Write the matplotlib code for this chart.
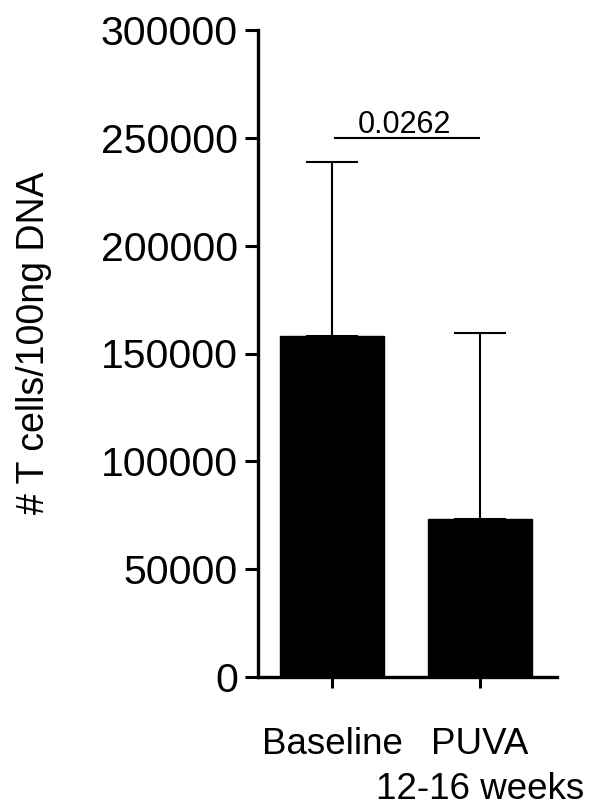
import matplotlib
matplotlib.use("Agg")
import matplotlib.pyplot as plt
from matplotlib import font_manager
from matplotlib.transforms import blended_transform_factory, offset_copy

categories = ["Baseline", "PUVA\n12-16 weeks"]
means = [158000, 73300]
upper_err = [81000, 86200]
yticks = [0, 50000, 100000, 150000, 200000, 250000, 300000]
pvalue_text = "0.0262"
sig_y = 250000
ylabel = "# T cells/100ng DNA"

names = {f.name for f in font_manager.fontManager.ttflist}
base = "Liberation Sans" if "Liberation Sans" in names else "DejaVu Sans"
plt.rcParams['font.family'] = [base, 'DejaVu Sans']

fig = plt.figure(figsize=(5.94, 8.10), dpi=100)
ax = fig.add_axes([258/594, 1-677/810, (557-258)/594, (677-30)/810])

x = list(range(len(categories)))
ax.bar(x, means, width=0.70, color="black", edgecolor="black", zorder=2)
ax.errorbar(x, means, yerr=[[0]*len(means), upper_err], fmt="none",
            ecolor="black", elinewidth=1.5, capsize=18.4, capthick=1.5, zorder=1)

ax.set_xlim(-0.5, 1.52)
ax.set_ylim(0, 300000)
ax.set_yticks(yticks)
ax.set_yticklabels([str(v) for v in yticks])
ax.set_xticks(x)
first_lines = [c.split("\n")[0] for c in categories]
ax.set_xticklabels(first_lines, fontsize=26.5)
ax.tick_params(axis="y", labelsize=29.5, length=9.5, width=2.2, pad=5)
ax.tick_params(axis="x", length=8, width=2.2, pad=28)
for s in ["top", "right"]:
    ax.spines[s].set_visible(False)
for s in ["left", "bottom"]:
    ax.spines[s].set_linewidth(2.4)

# second lines of category labels
trans = blended_transform_factory(ax.transData, ax.transAxes)
for xi, c in zip(x, categories):
    parts = c.split("\n")
    if len(parts) > 1:
        ax.text(xi, 0, parts[1], transform=offset_copy(trans, fig=fig, y=-122/1.0, units="dots"),
                ha="center", va="baseline", fontsize=26.5)

# significance bar
ax.plot([0.02, 0.99], [sig_y, sig_y], color="black", lw=1.5, clip_on=False)
ax.text(0.49, sig_y + 2300, pvalue_text, ha="center", va="baseline", fontsize=22)

fig.text(34/594, 1-343/810, ylabel, rotation=90, ha="center", va="center",
         fontsize=27)

fig.savefig("out.png", dpi=100)
